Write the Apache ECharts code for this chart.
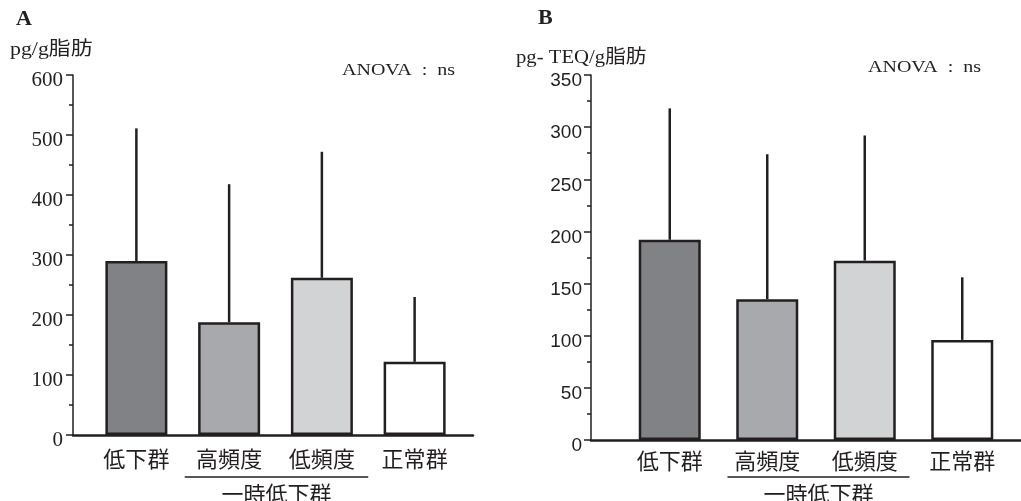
<!DOCTYPE html>
<html>
<head>
<meta charset="utf-8">
<script src="https://cdn.jsdelivr.net/npm/echarts@6/dist/echarts.min.js"></script>
<style>
  html, body { margin: 0; padding: 0; background: #ffffff; }
  #chart { width: 1021px; height: 501px; }
</style>
</head>
<body>
<div id="chart"></div>
<script>
// Group names on the category axis and the bracket label beneath two of them
const categories = ['低下群', '高頻度', '低頻度', '正常群'];
const groupLabel = '一時低下群';

// Panel A: concentration (pg/g fat), mean and SD
const meanA = [290, 188, 262, 122];
const sdA = [221, 230, 210, 108];

// Panel B: TEQ (pg-TEQ/g fat), mean and SD
const meanB = [192, 135, 172, 96];
const sdB = [126, 139, 120, 60];

// Y-axis ranges and steps
const yTicksA = { min: 0, max: 600, interval: 100 };
const yTicksB = { min: 0, max: 350, interval: 50 };

const panelTitles = ['A', 'B'];
const unitLabels = ['pg/g脂肪', 'pg- TEQ/g脂肪'];
const statLabel = 'ANOVA  :  ns';

const barColors = ['#808285', '#a7a9ac', '#d1d3d4', '#ffffff'];
const ink = '#231f20';
const cjk = "'Noto Sans CJK JP', 'Noto Sans CJK SC', sans-serif";
const serif = "'Liberation Serif', 'DejaVu Serif', serif";
const serifCjk = "'Liberation Serif', 'Noto Sans CJK JP', serif";
const sans = "'Liberation Sans', 'DejaVu Sans', sans-serif";

const grid = [], xAxis = [], yAxis = [], series = [];

function addPanel(cfg) {
  const outer = grid.length;
  const inner = outer + 1;
  // outer grid carries the visible y axis and the full-width baseline
  grid.push({ left: cfg.axisLeft, right: cfg.axisRight, top: cfg.top, bottom: cfg.bottom });
  // inner grid holds the category bands for the bars
  grid.push({ left: cfg.bandLeft, right: cfg.bandRight, top: cfg.top, bottom: cfg.bottom });

  xAxis.push({
    gridIndex: outer, type: 'value', min: 0, max: 1,
    axisLine: { show: true, lineStyle: { color: ink, width: 2.5 } },
    axisTick: { show: false }, axisLabel: { show: false }, splitLine: { show: false }
  });
  xAxis.push({
    gridIndex: inner, type: 'category', data: categories,
    axisLine: { show: false }, axisTick: { show: false }, splitLine: { show: false },
    axisLabel: { color: ink, fontFamily: cjk, fontSize: 22, margin: cfg.catMargin, interval: 0 }
  });

  yAxis.push({
    gridIndex: outer, type: 'value', min: cfg.y.min, max: cfg.y.max, interval: cfg.y.interval,
    axisLine: { show: true, lineStyle: { color: ink, width: 1.5 } },
    axisTick: { show: true, inside: false, length: 7, lineStyle: { color: ink, width: 1.5 } },
    minorTick: { show: true, splitNumber: 2, length: 4, lineStyle: { color: ink, width: 1.5 } },
    axisLabel: {
      color: ink, fontFamily: cfg.numFont, fontSize: cfg.numSize, margin: cfg.numMargin,
      // leading blank line drops each number a few pixels below its tick
      lineHeight: cfg.numDrop * 2,
      formatter: (v) => '\n' + v
    },
    splitLine: { show: false }
  });
  yAxis.push({
    gridIndex: inner, type: 'value', min: cfg.y.min, max: cfg.y.max, show: false
  });

  const xi = xAxis.length - 1, yi = yAxis.length - 1;

  series.push({
    type: 'bar', xAxisIndex: xi, yAxisIndex: yi, barWidth: 62,
    data: cfg.mean.map((v, i) => ({
      value: v,
      itemStyle: { color: barColors[i], borderColor: ink, borderWidth: 2.5 }
    })),
    z: 3
  });

  // upward SD whiskers
  series.push({
    type: 'custom', xAxisIndex: xi, yAxisIndex: yi, z: 2,
    encode: { x: 0, y: [1, 2] },
    data: cfg.mean.map((m, i) => [i, m, m + cfg.sd[i]]),
    renderItem: function (params, api) {
      const p0 = api.coord([api.value(0), api.value(1)]);
      const p1 = api.coord([api.value(0), api.value(2)]);
      return {
        type: 'line',
        shape: { x1: p0[0], y1: p0[1], x2: p1[0], y2: p1[1] },
        style: { stroke: ink, lineWidth: 2.5 }
      };
    }
  });

  // bracket grouping the two intermittent categories, with its label
  series.push({
    type: 'custom', xAxisIndex: xi, yAxisIndex: yi, clip: false, silent: true,
    data: [[1, 2]],
    renderItem: function (params, api) {
      const a = api.coord([api.value(0), 0]);
      const b = api.coord([api.value(1), 0]);
      const band = api.size([1, 0])[0];
      const x1 = a[0] - band / 2 + cfg.bracketInsetL;
      const x2 = b[0] + band / 2 - cfg.bracketInsetR;
      const y = a[1] + cfg.bracketDrop;
      return {
        type: 'group',
        children: [
          { type: 'line', shape: { x1: x1, y1: y, x2: x2, y2: y }, style: { stroke: ink, lineWidth: 1.5 } },
          {
            type: 'text',
            style: {
              x: (x1 + x2) / 2, y: y + 6, text: groupLabel,
              textAlign: 'center', textVerticalAlign: 'top',
              fill: ink, font: '22px ' + cjk
            }
          }
        ]
      };
    }
  });
}

addPanel({
  axisLeft: 73, axisRight: 1021 - 473, bandLeft: 90, bandRight: 1021 - 461,
  top: 75, bottom: 501 - 435, y: yTicksA, mean: meanA, sd: sdA,
  numFont: serif, numSize: 21, numMargin: 10, numDrop: 5, catMargin: 13,
  bracketInsetL: 2, bracketInsetR: 0, bracketDrop: 42
});
addPanel({
  axisLeft: 591, axisRight: 0, bandLeft: 621, bandRight: 1021 - 1011,
  top: 75, bottom: 501 - 440, y: yTicksB, mean: meanB, sd: sdB,
  numFont: sans, numSize: 19, numMargin: 9, numDrop: 6, catMargin: 10,
  bracketInsetL: 9, bracketInsetR: 4, bracketDrop: 37
});

const textItem = (x, y, text, font, sx) => ({
  type: 'text', x: x, y: y, scaleX: sx || 1,
  style: { text: text, font: font, fill: ink, textVerticalAlign: 'middle' }
});

const chart = echarts.init(document.getElementById('chart'), null, { renderer: 'canvas' });
chart.setOption({
  animation: false,
  backgroundColor: '#ffffff',
  grid: grid, xAxis: xAxis, yAxis: yAxis, series: series,
  graphic: [
    textItem(16, 19, panelTitles[0], 'bold 22px ' + serif),
    textItem(538, 18, panelTitles[1], 'bold 22px ' + serif),
    textItem(10, 50, unitLabels[0], '19px ' + serifCjk, 1.15),
    textItem(516, 58, unitLabels[1], '19px ' + serifCjk, 1.09),
    textItem(342, 71, statLabel, '16px ' + serif, 1.25),
    textItem(868, 68, statLabel, '16px ' + serif, 1.25)
  ]
});
</script>
</body>
</html>
